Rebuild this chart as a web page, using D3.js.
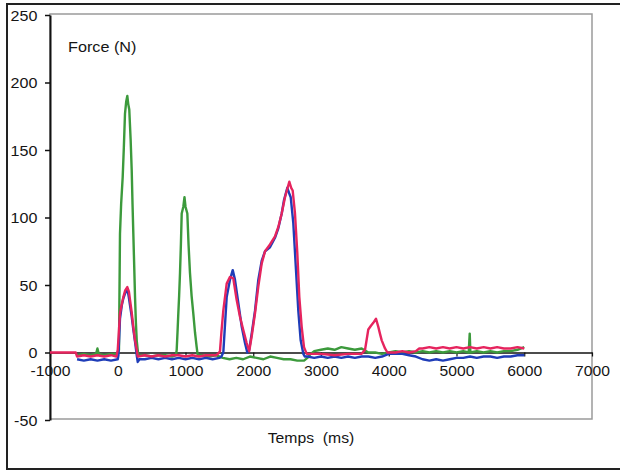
<!DOCTYPE html>
<html><head><meta charset="utf-8">
<script src="https://cdn.jsdelivr.net/npm/d3@7"></script>
<style>
body{margin:0;background:#fff}
svg{display:block}
text{font-family:Arial,"Liberation Sans",sans-serif;fill:#151515}
</style>
</head><body>
<svg id="chart" width="620" height="470"></svg>
<script>
// ---- data ----
const xTicks = [-1000, 0, 1000, 2000, 3000, 4000, 5000, 6000, 7000];
const yTicks = [-50, 0, 50, 100, 150, 200, 250];

const greenT = [-600,-500,-400,-320,-300,-280,-200,-100,0,18,33,50,73,90,107,125,141,155,170,190,206,218,230,243,255,268,280,292,303,400,500,600,700,800,860,870,882,894,906,919,932,944,968,985,1000,1027,1045,1066,1090,1115,1140,1165,1180,1250,1350,1450,1550,1650,1750,1850,1950,2050,2150,2250,2350,2450,2550,2650,2750,2800,2850,2900,3000,3100,3200,3300,3400,3500,3600,3700,3800,3900,4000,4100,4200,4300,4400,4500,4600,4700,4800,4900,5000,5100,5180,5195,5205,5300,5400,5500,5600,5700,5800,5900,6000];
const greenF = [-2,-1,-2,-1,3,-1,-2,-1,-1,2,88,110,130,152,177,186,190,184,180,158,135,110,88,64,41,22,9,3,-2,-2,-3,-2,-2,-3,-2,2,15,29,42,59,80,103,108,115,108,103,80,59,42,29,15,4,-2,-2,-3,-2,-4,-5,-4,-5,-3,-4,-5,-3,-4,-5,-5,-6,-6,-4,-1,1,2,3,2,4,3,2,3,0,0,-1,0,1,0,1,0,1,0,1,0,1,0,1,0,14,0,1,0,1,0,1,1,2,4];

const blueT = [-600,-500,-400,-300,-200,-100,0,10,33,60,82,110,141,160,181,205,230,255,280,295,320,400,500,600,700,800,900,1000,1100,1200,1300,1400,1500,1530,1558,1608,1657,1697,1730,1779,1830,1878,1912,1940,1977,2026,2075,2125,2174,2247,2321,2370,2420,2454,2503,2530,2553,2591,2631,2665,2700,2739,2760,2800,2900,3000,3100,3200,3300,3400,3500,3600,3700,3800,3900,4000,4100,4200,4300,4400,4500,4600,4700,4800,4900,5000,5100,5200,5300,5400,5500,5600,5700,5800,5900,6000];
const blueF = [-5,-6,-5,-6,-5,-6,-5,-2,25,35,40,44,47,42,35,27,17,8,-2,-7,-5,-5,-4,-5,-4,-5,-4,-5,-4,-5,-4,-5,-4,-3,0,41,54,61,54,37,19,7,0,2,14,31,54,68,75,78,85,92,103,113,122,118,115,96,61,31,9,-1,-3,-3,-4,-3,-4,-3,-4,-3,-4,-3,-3,-4,-3,-1,-1,-1,-2,-3,-5,-6,-5,-6,-5,-4,-4,-3,-4,-3,-3,-4,-3,-3,-2,-2];

const redT = [-1000,-620,-600,-500,-400,-300,-200,-100,-20,0,33,60,82,110,141,165,181,205,230,255,280,295,400,500,600,700,800,900,1000,1100,1200,1300,1400,1450,1480,1509,1530,1558,1608,1657,1705,1755,1804,1853,1903,1941,1977,2026,2075,2125,2174,2247,2321,2370,2420,2469,2532,2560,2582,2616,2650,2680,2715,2749,2789,2850,3000,3200,3400,3600,3650,3698,3740,3772,3812,3846,3870,3896,3945,3980,4100,4200,4300,4400,4450,4500,4600,4700,4800,4900,5000,5100,5200,5300,5400,5500,5600,5700,5800,5900,6000];
const redF = [0,0,-3,-2,-3,-2,-3,-2,-3,2,29,36,41,46,48.5,45,39,30,19,9,2,-3,-2,-3,-2,-3,-2,-2,-3,-2,-3,-2,-2,-2,-1,1,15,31,51,56,55,39,26.5,16.7,7,1,12,29,49,66,75,80,86,93,103,115,126.5,122,120,103,74,41,19,4,-1,-1,-1,-2,-1,-1,2,17,20,22,25,19,14,9,3,0,0,1,0,1,3,3,4,3,4,3,4,3,4,3,4,3,4,3,3,4,3];

const seriesColors = ["#3c9a3c", "#1f3db8", "#e6245e"];

// ---- drawing ----
const svg = d3.select("#chart");
const x = d3.scaleLinear().domain([-1000, 7000]).range([50, 592]);
const y = d3.scaleLinear().domain([-50, 250]).range([420, 15]);
const fmt = d => String(d);

// outer frame
svg.append("rect").attr("x", 7).attr("y", 4).attr("width", 660).attr("height", 465)
  .attr("fill", "none").attr("stroke", "#222").attr("stroke-width", 2);

// plot area box
svg.append("rect").attr("x", 50).attr("y", 14).attr("width", 542).attr("height", 405)
  .attr("fill", "none").attr("stroke", "#9a9a9a").attr("stroke-width", 1.5);

// y axis
const yAxis = svg.append("g").attr("transform", "translate(50,0)")
  .call(d3.axisLeft(y).tickValues(yTicks).tickSize(5).tickSizeOuter(0).tickFormat(fmt));
yAxis.select(".domain").attr("stroke", "#111").attr("stroke-width", 2);
yAxis.selectAll(".tick line").attr("stroke", "#111").attr("stroke-width", 1.5);
yAxis.selectAll(".tick text").attr("font-size", 14).attr("x", -11).attr("dy", "0.36em")
  .attr("transform", "scale(1.15,1)").style("fill", "#151515");

// x axis at y = 0
const xAxis = svg.append("g").attr("transform", `translate(0,${y(0)})`)
  .call(d3.axisBottom(x).tickValues(xTicks).tickSize(4).tickSizeOuter(0).tickFormat(fmt));
xAxis.select(".domain").attr("stroke", "#111").attr("stroke-width", 1.6);
xAxis.selectAll(".tick line").attr("stroke", "#111").attr("stroke-width", 1.2);
xAxis.selectAll(".tick text").attr("font-size", 14).attr("y", 14).attr("dy", "0.71em")
  .attr("x", 0).attr("transform", "scale(1.12,1)").style("fill", "#151515");

// series
const line = d3.line().x(d => x(d[0])).y(d => y(d[1]));
const series = [
  d3.zip(greenT, greenF),
  d3.zip(blueT, blueF),
  d3.zip(redT, redF)
];
series.forEach((s, i) => {
  svg.append("path").datum(s).attr("d", line)
    .attr("fill", "none").attr("stroke", seriesColors[i])
    .attr("stroke-width", 2.4).attr("stroke-linejoin", "round");
});

// labels
svg.append("text").attr("transform", "translate(68,52) scale(1.08,1)")
  .attr("font-size", 15).text("Force (N)");
svg.append("text").attr("transform", "translate(311,443) scale(1.05,1)")
  .attr("font-size", 15).attr("text-anchor", "middle").style("white-space", "pre")
  .text("Temps  (ms)");
</script>
</body></html>
